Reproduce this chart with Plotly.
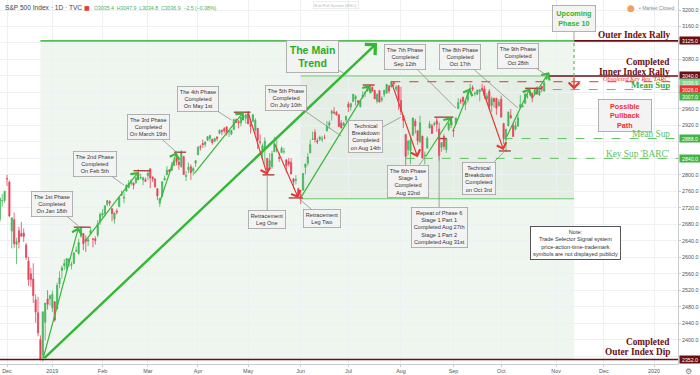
import numpy as np
import plotly.graph_objects as go

# ---------------- data (S&P 500 daily) ----------------
dates = [
 "2018-11-28","2018-11-29","2018-11-30",
 "2018-12-03","2018-12-04","2018-12-06","2018-12-07","2018-12-10","2018-12-11","2018-12-12","2018-12-13","2018-12-14",
 "2018-12-17","2018-12-18","2018-12-19","2018-12-20","2018-12-21","2018-12-24","2018-12-26","2018-12-27","2018-12-28","2018-12-31",
 "2019-01-02","2019-01-03","2019-01-04","2019-01-07","2019-01-08","2019-01-09","2019-01-10","2019-01-11","2019-01-14","2019-01-15",
 "2019-01-16","2019-01-17","2019-01-18","2019-01-22","2019-01-23","2019-01-24","2019-01-25","2019-01-28","2019-01-29","2019-01-30","2019-01-31",
 "2019-02-01","2019-02-04","2019-02-05","2019-02-06","2019-02-07","2019-02-08","2019-02-11","2019-02-12","2019-02-13","2019-02-14",
 "2019-02-15","2019-02-19","2019-02-20","2019-02-21","2019-02-22","2019-02-25","2019-02-26","2019-02-27","2019-02-28",
 "2019-03-01","2019-03-04","2019-03-05","2019-03-06","2019-03-07","2019-03-08","2019-03-11","2019-03-12","2019-03-13","2019-03-14",
 "2019-03-15","2019-03-18","2019-03-19","2019-03-20","2019-03-21","2019-03-22","2019-03-25","2019-03-26","2019-03-27","2019-03-28","2019-03-29",
 "2019-04-01","2019-04-02","2019-04-03","2019-04-04","2019-04-05","2019-04-08","2019-04-09","2019-04-10","2019-04-11","2019-04-12",
 "2019-04-15","2019-04-16","2019-04-17","2019-04-18","2019-04-22","2019-04-23","2019-04-24","2019-04-25","2019-04-26","2019-04-29","2019-04-30",
 "2019-05-01","2019-05-02","2019-05-03","2019-05-06","2019-05-07","2019-05-08","2019-05-09","2019-05-10","2019-05-13","2019-05-14",
 "2019-05-15","2019-05-16","2019-05-17","2019-05-20","2019-05-21","2019-05-22","2019-05-23","2019-05-24","2019-05-28","2019-05-29","2019-05-30","2019-05-31",
 "2019-06-03","2019-06-04","2019-06-05","2019-06-06","2019-06-07","2019-06-10","2019-06-11","2019-06-12","2019-06-13","2019-06-14",
 "2019-06-17","2019-06-18","2019-06-19","2019-06-20","2019-06-21","2019-06-24","2019-06-25","2019-06-26","2019-06-27","2019-06-28",
 "2019-07-01","2019-07-02","2019-07-03","2019-07-05","2019-07-08","2019-07-09","2019-07-10","2019-07-11","2019-07-12","2019-07-15",
 "2019-07-16","2019-07-17","2019-07-18","2019-07-19","2019-07-22","2019-07-23","2019-07-24","2019-07-25","2019-07-26","2019-07-29","2019-07-30","2019-07-31",
 "2019-08-01","2019-08-02","2019-08-05","2019-08-06","2019-08-07","2019-08-08","2019-08-09","2019-08-12","2019-08-13","2019-08-14",
 "2019-08-15","2019-08-16","2019-08-19","2019-08-20","2019-08-21","2019-08-22","2019-08-23","2019-08-26","2019-08-27","2019-08-28","2019-08-29","2019-08-30",
 "2019-09-03","2019-09-04","2019-09-05","2019-09-06","2019-09-09","2019-09-10","2019-09-11","2019-09-12","2019-09-13","2019-09-16",
 "2019-09-17","2019-09-18","2019-09-19","2019-09-20","2019-09-23","2019-09-24","2019-09-25","2019-09-26","2019-09-27","2019-09-30",
 "2019-10-01","2019-10-02","2019-10-03","2019-10-04","2019-10-07","2019-10-08","2019-10-09","2019-10-10","2019-10-11","2019-10-14",
 "2019-10-15","2019-10-16","2019-10-17","2019-10-18","2019-10-21","2019-10-22","2019-10-23","2019-10-24","2019-10-25","2019-10-28","2019-10-29",
]
open_ = [
 2691.45,2736.97,2737.76,
 2790.50,2782.43,2663.51,2691.26,2630.86,2664.44,2658.23,2658.70,2629.68,
 2590.75,2559.90,2547.05,2496.77,2465.38,2400.56,2363.12,2442.50,2498.77,2498.94,
 2476.96,2491.92,2474.33,2535.61,2568.11,2580.00,2573.51,2588.11,2580.31,2585.10,
 2614.75,2609.28,2651.27,2657.88,2643.48,2638.84,2657.44,2644.97,2644.89,2653.62,2685.49,
 2702.32,2706.49,2728.34,2735.05,2717.53,2692.36,2712.40,2722.61,2750.30,2743.50,
 2760.24,2769.28,2779.05,2780.24,2780.67,2804.35,2792.36,2787.50,2788.11,
 2798.22,2814.37,2794.41,2790.27,2766.53,2730.79,2747.61,2787.34,2799.78,2811.87,
 2810.79,2822.61,2840.76,2831.34,2819.72,2844.52,2796.01,2812.66,2819.72,2809.40,2828.27,
 2848.63,2868.24,2876.09,2873.99,2884.16,2888.46,2886.58,2881.37,2891.92,2900.86,
 2908.32,2912.26,2916.04,2904.81,2898.78,2909.99,2934.00,2928.99,2925.81,2940.58,2937.14,
 2952.33,2922.16,2929.21,2908.89,2913.03,2879.61,2859.84,2863.10,2840.19,2820.12,
 2820.38,2855.80,2858.60,2841.94,2854.02,2856.06,2836.70,2832.41,2830.03,2790.25,2786.94,2766.15,
 2751.53,2762.64,2818.09,2828.51,2852.87,2885.83,2903.27,2882.73,2886.24,2886.82,
 2889.75,2906.71,2920.55,2949.60,2952.71,2951.42,2945.78,2926.07,2919.66,2932.94,
 2971.41,2964.66,2978.08,2984.25,2979.77,2965.52,2989.30,2999.62,3003.36,3017.80,
 3012.13,3005.10,2978.87,3004.26,2981.93,2994.74,2998.77,3016.26,3013.25,3024.47,3007.66,3016.22,
 2980.32,2943.90,2898.07,2861.18,2858.65,2896.21,2930.51,2907.07,2880.72,2894.15,
 2846.20,2864.74,2913.48,2919.01,2922.04,2930.94,2911.07,2866.70,2893.14,2861.28,2910.37,2937.09,
 2909.01,2924.67,2960.60,2980.33,2988.43,2971.01,2981.41,3009.08,3012.21,2996.41,
 2995.67,3001.50,3010.36,3008.42,2983.50,3002.43,2968.35,2985.73,2985.47,2967.07,
 2983.69,2924.78,2885.38,2918.56,2944.23,2920.40,2911.10,2918.55,2963.07,2965.81,
 2973.61,2989.68,3000.77,2996.84,2996.48,3010.73,2994.01,3014.78,3003.32,3032.12,3035.39,
]
high = [
 2744.00,2753.75,2760.88,
 2800.18,2785.93,2696.15,2708.54,2647.51,2674.35,2685.44,2670.19,2635.07,
 2601.13,2573.99,2585.29,2509.63,2504.41,2410.34,2467.76,2489.10,2520.27,2509.24,
 2519.49,2493.14,2538.07,2566.16,2579.82,2595.32,2597.82,2596.27,2589.32,2613.08,
 2625.76,2645.06,2675.47,2657.88,2653.19,2647.20,2672.38,2644.97,2650.93,2690.44,2708.95,
 2716.66,2724.99,2738.98,2738.08,2719.32,2708.07,2718.05,2748.19,2761.85,2757.90,
 2775.66,2787.33,2789.88,2781.58,2794.20,2813.49,2803.12,2795.76,2793.73,
 2808.02,2816.88,2796.44,2790.27,2767.25,2744.13,2784.00,2798.32,2821.24,2814.00,
 2830.73,2835.41,2852.42,2843.54,2860.31,2846.16,2809.79,2829.87,2825.56,2819.71,2836.03,
 2869.40,2872.90,2885.25,2881.28,2893.24,2895.95,2886.88,2889.71,2893.42,2910.54,
 2909.60,2916.06,2918.00,2908.40,2909.51,2936.31,2936.83,2933.10,2939.88,2949.52,2948.22,
 2954.13,2931.68,2947.85,2937.32,2913.03,2897.96,2875.97,2891.31,2840.19,2852.54,
 2858.68,2892.15,2885.48,2853.86,2868.88,2865.47,2836.70,2841.36,2840.51,2792.03,2799.00,2768.98,
 2763.07,2804.49,2827.28,2852.10,2884.97,2904.77,2910.61,2888.57,2895.24,2894.45,
 2897.27,2930.79,2931.74,2958.06,2964.15,2954.92,2946.52,2932.59,2929.30,2943.98,
 2977.93,2973.21,2995.84,2994.03,2980.76,2981.90,3002.98,3002.33,3013.92,3017.80,
 3015.02,3005.26,2998.28,3006.02,2990.71,3005.90,3019.59,3016.31,3027.98,3025.61,3017.19,3017.40,
 3013.59,2945.50,2898.07,2884.40,2892.17,2938.72,2935.75,2907.58,2943.31,2894.15,
 2856.67,2893.63,2931.00,2923.63,2928.73,2939.08,2927.01,2879.27,2898.79,2890.03,2930.50,2940.43,
 2914.39,2938.84,2985.86,2985.03,2989.43,2979.39,3000.93,3020.74,3017.33,3002.19,
 3006.21,3007.83,3021.19,3016.37,2999.15,3007.98,2989.82,2987.28,2987.31,2983.85,
 2992.53,2924.78,2911.13,2953.74,2959.75,2925.47,2929.32,2948.46,2993.28,2972.84,
 3003.28,2997.54,3008.29,3000.00,3007.33,3014.57,3004.78,3016.07,3027.39,3044.08,3047.87,
]
low = [
 2684.38,2722.94,2732.76,
 2773.38,2697.18,2621.53,2623.14,2583.23,2621.30,2650.26,2637.27,2593.84,
 2530.54,2528.71,2488.96,2441.18,2408.55,2351.10,2346.58,2397.94,2472.89,2482.82,
 2467.47,2443.96,2474.33,2524.56,2547.56,2568.89,2562.02,2577.40,2570.41,2585.10,
 2612.68,2606.36,2647.58,2617.27,2612.86,2627.01,2657.33,2624.06,2631.05,2648.34,2678.65,
 2696.88,2698.75,2724.03,2724.15,2687.26,2681.83,2703.79,2722.61,2748.63,2731.23,
 2760.24,2767.29,2774.06,2764.55,2779.11,2794.99,2789.47,2775.13,2782.51,
 2787.38,2767.66,2782.97,2768.69,2739.09,2722.27,2747.61,2786.73,2799.78,2803.46,
 2810.79,2821.99,2823.27,2812.43,2817.38,2800.47,2785.02,2803.99,2787.72,2798.77,2819.23,
 2848.63,2858.75,2865.17,2867.14,2882.99,2880.78,2873.33,2879.13,2881.99,2898.37,
 2896.48,2900.71,2895.45,2891.90,2896.35,2908.53,2926.05,2912.84,2917.56,2939.35,2924.11,
 2923.36,2900.50,2929.21,2898.21,2862.60,2873.28,2836.40,2825.39,2801.43,2820.12,
 2815.08,2855.80,2854.23,2831.29,2854.02,2851.11,2805.49,2820.19,2801.58,2766.06,2776.74,2750.52,
 2728.81,2762.64,2800.92,2822.45,2852.87,2885.51,2878.53,2874.68,2881.99,2879.62,
 2887.30,2905.44,2911.43,2931.50,2946.87,2944.05,2916.01,2912.99,2918.57,2929.05,
 2952.22,2955.92,2977.96,2967.97,2970.09,2963.44,2984.62,2988.80,3001.87,3008.77,
 3001.15,2984.25,2973.09,2975.86,2976.65,2988.56,2996.82,2997.24,3012.59,3014.30,3000.94,2958.08,
 2945.23,2914.11,2822.12,2847.42,2825.71,2894.47,2900.15,2873.14,2877.05,2839.64,
 2825.51,2864.74,2913.48,2899.60,2917.91,2904.51,2834.97,2856.00,2860.59,2853.05,2905.67,2913.32,
 2891.85,2921.86,2960.60,2972.51,2969.39,2957.01,2975.31,3000.92,3002.90,2990.67,
 2993.73,2978.57,3003.16,2984.68,2982.23,2957.73,2952.86,2963.71,2945.53,2967.07,
 2938.70,2874.93,2855.94,2918.56,2935.68,2892.66,2907.41,2917.12,2963.07,2962.94,
 2973.61,2985.20,2991.79,2976.31,2995.35,2995.04,2991.21,3000.42,3001.94,3032.12,3034.81,
]
close = [
 2743.79,2737.80,2760.17,
 2790.37,2700.06,2695.95,2633.08,2637.72,2636.78,2651.07,2650.54,2599.95,
 2545.94,2546.16,2506.96,2467.42,2416.62,2351.10,2467.70,2488.83,2485.74,2506.85,
 2510.03,2447.89,2531.94,2549.69,2574.41,2584.96,2596.64,2596.26,2582.61,2610.30,
 2616.10,2635.96,2670.71,2632.90,2638.70,2642.33,2664.76,2643.85,2640.00,2681.05,2704.10,
 2706.53,2724.87,2737.70,2731.61,2706.05,2707.88,2709.80,2744.73,2753.03,2745.73,
 2775.60,2779.76,2784.70,2774.88,2792.67,2796.11,2793.90,2792.38,2784.49,
 2803.69,2792.81,2789.65,2771.45,2748.93,2743.07,2783.30,2791.52,2810.92,2808.48,
 2822.48,2832.94,2832.57,2824.23,2854.88,2800.71,2798.36,2818.46,2805.37,2815.44,2834.40,
 2867.19,2867.24,2873.40,2879.39,2892.74,2895.77,2878.20,2888.21,2888.32,2907.41,
 2905.58,2907.06,2900.45,2905.03,2907.97,2933.68,2927.25,2926.17,2939.88,2943.03,2945.83,
 2923.73,2917.52,2945.64,2932.47,2884.05,2879.42,2870.72,2881.40,2811.87,2834.41,
 2850.96,2876.32,2859.53,2840.23,2864.36,2856.27,2822.24,2826.06,2802.39,2783.02,2788.86,2752.06,
 2744.45,2803.27,2826.15,2843.49,2873.34,2886.73,2885.72,2879.84,2891.64,2886.98,
 2889.67,2917.75,2926.46,2954.18,2950.46,2945.35,2917.38,2913.78,2924.92,2941.76,
 2964.33,2973.01,2995.82,2990.41,2975.95,2979.63,2993.07,2999.91,3013.77,3014.30,
 3004.04,2984.42,2995.11,2976.61,2985.03,3005.47,3019.56,3003.67,3025.86,3020.97,3013.18,2980.38,
 2953.56,2932.05,2844.74,2881.77,2883.98,2938.09,2918.65,2882.70,2926.32,2840.60,
 2847.60,2888.68,2923.65,2900.51,2924.43,2922.95,2847.11,2878.38,2869.16,2887.94,2924.58,2926.46,
 2906.27,2937.78,2976.00,2978.71,2978.43,2979.39,3000.93,3009.57,3007.39,2997.96,
 3005.70,3006.73,3006.79,2992.07,2991.78,2966.60,2984.87,2977.62,2961.79,2976.74,
 2940.25,2887.61,2910.63,2952.01,2938.79,2893.06,2919.40,2938.13,2970.27,2966.15,
 2995.68,2989.69,2997.95,2986.20,3006.72,2995.99,3004.52,3010.29,3022.55,3039.42,3036.89,
]

month_tick_dates = ["2018-12-03","2019-01-02","2019-02-01","2019-03-01","2019-04-01","2019-05-01","2019-06-03",
                    "2019-07-01","2019-08-01","2019-09-03","2019-10-01","2019-11-01","2019-12-02","2020-01-02"]
month_tick_labels = ["Dec","2019","Feb","Mar","Apr","May","Jun","Jul","Aug","Sep","Oct","Nov","Dec","2020"]
price_ticks = [2360,2400,2440,2480,2520,2560,2600,2640,2680,2720,2760,2800,2840,2880,2920,2960,3000,3040,3080,3120,3160,3200]
hidden_price_ticks = [2360, 2840, 2880, 3000, 3040, 3120]   # covered by the level tags

level_outer_rally = 3125.0
level_inner_rally = 3040.0
level_tarc = 3026.0
level_mean_sup_hi = 3007.0
level_mean_sup_lo = 2888.0
level_barc = 2840.0
level_outer_dip = 2352.0
last_price = 3036.9
inner_box_low = 2742.0

header_title = "S&P 500 Index · 1D · TVC"
header_ohlc = "O3035.4  H3047.9  L3034.8  C3036.9  −2.5 (−0.08%)"

HOL = ["2018-12-05","2018-12-25","2019-01-01","2019-01-21","2019-02-18","2019-04-19","2019-05-27",
       "2019-07-04","2019-09-02","2019-11-28","2019-12-25","2020-01-01"]


def X(d, off=0.0):
    return float(np.busday_count("2018-12-03", d, holidays=HOL)) + off


UP = "#45b55a"
DN = "#e8415a"
LGREEN = "#5cc25c"
DRED = "#6b0f12"
RED = "#ee2d2d"
PIV = "#a8433f"

xs = [X(d) for d in dates]
XR = [-2.93, 281.05]
YR = [2341.0, 3224.3]
X_EDGE = X("2019-11-12", 0.5)   # right edge of the projected boxes

fig = go.Figure(go.Candlestick(
    x=xs, open=open_, high=high, low=low, close=close,
    increasing=dict(line=dict(color=UP, width=0.8), fillcolor=UP),
    decreasing=dict(line=dict(color=DN, width=0.8), fillcolor=DN),
    whiskerwidth=0, showlegend=False, hoverinfo="skip"))

shapes = []
shapes.append(dict(type="rect", xref="x", yref="y", x0=X("2018-12-24"), x1=X_EDGE, y0=level_outer_dip, y1=level_outer_rally,
                   fillcolor="rgba(190,215,190,0.24)", line=dict(width=0), layer="below"))
shapes.append(dict(type="rect", xref="x", yref="y", x0=X("2019-06-03"), x1=X_EDGE, y0=inner_box_low, y1=level_inner_rally,
                   fillcolor="rgba(190,215,190,0.22)", line=dict(width=0), layer="below"))


def hline(x0, x1, y, color, width=1.0, dash="solid"):
    shapes.append(dict(type="line", xref="x", yref="y", x0=x0, x1=x1, y0=y, y1=y,
                       line=dict(color=color, width=width, dash=dash)))


hline(X("2018-12-24"), X_EDGE, level_outer_rally, "#52c152", 1.6)
hline(X_EDGE, XR[1] + 5, level_outer_rally, DRED, 1.6)
hline(X("2019-06-03"), X("2019-10-29"), level_inner_rally, "#6cc66c", 1.0)
hline(X("2019-10-29"), XR[1] + 5, level_inner_rally, DRED, 1.6)
hline(X("2019-06-03"), X_EDGE, inner_box_low, "#6cc66c", 1.0)
hline(XR[0] - 5, XR[1] + 5, level_outer_dip, DRED, 1.6)
hline(X("2019-07-26"), XR[1] + 5, level_tarc, RED, 1.0, "dash")
hline(X("2019-10-21"), XR[1] + 5, level_mean_sup_hi, LGREEN, 1.0, "dash")
hline(X("2019-10-02"), XR[1] + 5, level_mean_sup_lo, LGREEN, 1.0, "dash")
hline(X("2019-08-05"), XR[1] + 5, level_barc, LGREEN, 1.0, "dash")
shapes.append(dict(type="line", xref="x", yref="y", x0=X_EDGE, x1=X_EDGE, y0=level_inner_rally, y1=level_outer_rally,
                   line=dict(color="#52c152", width=1.2, dash="dot")))

pivots = [
    ("2019-01-15", "2019-01-25", 2673), ("2019-02-21", "2019-03-04", 2810), ("2019-03-18", "2019-03-25", 2855),
    ("2019-04-23", "2019-05-02", 2952), ("2019-05-09", "2019-05-16", 2800), ("2019-05-24", "2019-06-04", 2744),
    ("2019-07-10", "2019-07-17", 3018), ("2019-08-21", "2019-09-03", 2940), ("2019-08-23", "2019-08-28", 2888),
    ("2019-09-30", "2019-10-07", 2858), ("2019-10-15", "2019-10-24", 3010),
]
for a, b, p in pivots:
    hline(X(a), X(b), p, PIV, 1.4)

fig.update_layout(shapes=shapes)


def arrow(d0, p0, d1, p1, color, width, size):
    fig.add_annotation(x=X(d1) if isinstance(d1, str) else d1, y=p1,
                       ax=X(d0) if isinstance(d0, str) else d0, ay=p0,
                       xref="x", yref="y", axref="x", ayref="y", text="",
                       showarrow=True, arrowhead=4, arrowsize=size, arrowwidth=width, arrowcolor=color)


arrow("2018-12-26", 2352, "2019-07-18", 3120, "#33b833", 2.4, 1.2)
phase_arrows = [
    ("2018-12-26", 2352, "2019-01-17", 2673), ("2019-01-22", 2634, "2019-02-25", 2807),
    ("2019-03-08", 2734, "2019-03-19", 2855), ("2019-03-28", 2800, "2019-04-29", 2952),
    ("2019-06-03", 2744, "2019-07-15", 3018), ("2019-08-15", 2841, "2019-08-30", 2940),
    ("2019-09-03", 2909, "2019-09-12", 3010), ("2019-10-03", 2889, "2019-10-17", 3010),
    ("2019-10-18", 2986, "2019-10-29", 3049),
]
for a in phase_arrows:
    arrow(*a, "#38b838", 1.2, 1.6)
red_arrows = [
    ("2019-05-01", 2952, "2019-05-13", 2800), ("2019-05-16", 2877, "2019-05-31", 2744),
    ("2019-07-26", 3025, "2019-08-12", 2843), ("2019-09-19", 3010, "2019-10-02", 2860),
]
for a in red_arrows:
    arrow(*a, "#e53935", 1.2, 1.6)
arrow(X_EDGE, level_inner_rally, X_EDGE, level_mean_sup_hi, "#e53935", 1.3, 1.6)

BOXFONT = "Liberation Sans"


def callout(text, d, p, ax, ay, color="#333333", size=5.6, show=True, pad=2, width=None):
    fig.add_annotation(x=X(d) if isinstance(d, str) else d, y=p, xref="x", yref="y", text=text,
                       showarrow=show, arrowhead=0, arrowwidth=0.8, arrowcolor="#8f8f8f", ax=ax, ay=ay,
                       bgcolor="#f3f3f3", bordercolor="#a0a0a0", borderwidth=0.8, borderpad=pad, width=width,
                       font=dict(size=size, color=color, family=BOXFONT), align="center")


callout("The 1st Phase<br>Completed<br>On Jan 18th", "2019-01-17", 2676, -27, -22)
callout("The 2nd Phase<br>Completed<br>On Feb 5th", "2019-02-14", 2775, -29, -21)
callout("The 3rd Phase<br>Completed<br>On March 19th", "2019-03-19", 2855, -28, -25)
callout("The 4th Phase<br>Completed<br>On May 1st", "2019-04-22", 2933, -33, -21)
callout("The 5th Phase<br>Completed<br>On July 10th", "2019-06-26", 2894, -55, -38)
callout("<b>The Main<br>Trend</b>", "2019-06-27", 3047, -31, -17, color="#22b022", size=10.5, pad=3)
callout("The 7th Phase<br>Completed<br>Sep 12th", "2019-09-04", 2962, -51, -51)
callout("The 8th Phase<br>Completed<br>Oct 17th", "2019-10-10", 2962, -58, -51)
callout("The 9th Phase<br>Completed<br>Oct 28th", "2019-10-28", 3042, -29, -19)
callout("<b>Upcoming<br>Phase 10</b>", X_EDGE, level_outer_rally, 0, -22, color="#2fb52f", size=7.2, pad=3.5)
callout("<b>Possible<br>Pullback<br>Path</b>", X("2019-12-13"), 2943, 0, 0, color="#f03030", size=7.2,
        show=False, width=48)
callout("Technical<br>Breakdown<br>Completed<br>on Aug 14th", "2019-08-01", 2940, -35, 19)
callout("The 6th Phase<br>Stage 1<br>Completed<br>Aug 22nd", "2019-08-15", 2843, -17, 24)
callout("Repeat of Phase 6<br>Stage 1 Part 1<br>Completed Aug 27th<br>Stage 1 Part 2<br>Completed Aug 31st",
        "2019-08-23", 2855, 0, 75)
callout("Technical<br>Breakdown<br>Completed<br>on Oct 3rd", "2019-10-02", 2855, -25, 26)
callout("Retracement<br>Leg One", "2019-05-13", 2800, 0, 45)
callout("Retracement<br>Leg Two", "2019-05-31", 2744, 24, 21)

fig.add_annotation(x=X("2019-11-13"), y=2635, xref="x", yref="y", showarrow=False,
                   text="Note:<br>Trade Selector Signal system<br>price-action-time-trademark<br>symbols are not displayed publicly",
                   bgcolor="#ffffff", bordercolor="#555555", borderwidth=1, borderpad=2,
                   font=dict(size=5.6, color="#333333", family=BOXFONT), align="center")

# right-side level texts: (text, level, colour, size, px above the level line)
SERIF = "Liberation Serif"
level_texts = [
    ("<b>Outer Index Rally</b>", level_outer_rally, DRED, 9.3, 6),
    ("<b>Completed</b>", level_inner_rally, DRED, 9.3, 13.5),
    ("<b>Inner Index Rally</b>", level_inner_rally, DRED, 9.3, 4.2),
    ("<i>Obsoleted Key Res 'TARC'</i>", level_tarc, RED, 6.3, 2.9),
    ("<b>Mean Sup</b>", level_mean_sup_hi, "#3aa83a", 9.0, 4.6),
    ("Mean Sup", level_mean_sup_lo, "#5cbf5c", 9.3, 4.6),
    ("Key Sup 'BARC'", level_barc, "#5cbf5c", 9.3, 4.4),
    ("<b>Completed</b>", level_outer_dip, DRED, 9.3, 17.5),
    ("<b>Outer Index Dip</b>", level_outer_dip, DRED, 9.3, 7.5),
]
for t, p, c, s, up in level_texts:
    fig.add_annotation(x=0.991, y=p, xref="paper", yref="y", xanchor="right", yanchor="middle", text=t,
                       showarrow=False, align="right", yshift=up,
                       font=dict(family=SERIF, size=s, color=c))

# price tags on the scale (value, colour, vertical stacking shift px)
tags = [
    (level_outer_rally, DRED, 0), (level_inner_rally, DRED, 0), (last_price, "#7fcf8e", -5),
    (level_tarc, "#f23030", -7.6), (level_mean_sup_hi, "#44b544", -7.2), (level_mean_sup_lo, "#44b544", 0),
    (level_barc, "#44b544", 0), (level_outer_dip, DRED, 0),
]
for v, c, sh in tags:
    fig.add_annotation(x=1, y=v, xref="paper", yref="y", xanchor="left", yanchor="middle", text=f"{v:.1f}",
                       showarrow=False, bgcolor=c, width=19, height=6, borderpad=0.5, yshift=sh, xshift=1,
                       font=dict(size=5.2, color="white", family=BOXFONT))

fig.add_annotation(x=0.004, y=1, xref="paper", yref="paper", xanchor="left", yanchor="top", yshift=-2,
                   text=header_title, showarrow=False, font=dict(size=6.6, color="#444444", family=BOXFONT))
fig.add_annotation(x=0.121, y=1, xref="paper", yref="paper", xanchor="left", yanchor="top", yshift=-2,
                   text="■", showarrow=False, font=dict(size=6, color="#e83a3a", family="DejaVu Sans"))
fig.add_annotation(x=0.135, y=1, xref="paper", yref="paper", xanchor="left", yanchor="top", yshift=-3,
                   text=header_ohlc, showarrow=False, font=dict(size=5.2, color="#4caf50", family=BOXFONT))
fig.add_annotation(x=0.462, y=1, xref="paper", yref="paper", xanchor="left", yanchor="top", yshift=-1,
                   text="Exit Full Screen (ESC)", showarrow=False, bordercolor="#e2e2e2", borderwidth=0.6,
                   borderpad=1, font=dict(size=4.2, color="#b5b5b5", family=BOXFONT))
fig.add_annotation(x=0.93, y=1, xref="paper", yref="paper", xanchor="center", yanchor="top", yshift=-1,
                   text="●", showarrow=False, font=dict(size=9, color="#f5a05a", family="DejaVu Sans"))
fig.add_annotation(x=0.94, y=1, xref="paper", yref="paper", xanchor="left", yanchor="top", yshift=-3,
                   text="• Market Closed", showarrow=False, font=dict(size=5, color="#8a8a8a", family=BOXFONT))
fig.add_annotation(x=1, y=0, xref="paper", yref="paper", xanchor="left", yanchor="top", xshift=5, yshift=-1,
                   text="⚙", showarrow=False, font=dict(size=8, color="#777777", family="DejaVu Sans"))

price_tick_text = ["" if v in hidden_price_ticks else f"{v:.1f}" for v in price_ticks]

fig.update_layout(
    width=700, height=375, margin=dict(l=0, r=22, t=0, b=11),
    paper_bgcolor="white", plot_bgcolor="white", showlegend=False,
    xaxis=dict(range=XR, tickvals=[X(d) for d in month_tick_dates], ticktext=month_tick_labels,
               showgrid=True, gridcolor="#eef1f4", gridwidth=1, zeroline=False, showline=True,
               linecolor="#c9cdd1", ticks="outside", ticklen=2, tickcolor="#c9cdd1",
               tickfont=dict(size=5.4, color="#555555", family=BOXFONT),
               rangeslider=dict(visible=False), fixedrange=True, automargin=False),
    yaxis=dict(side="right", range=YR, tickvals=price_ticks, ticktext=price_tick_text,
               showgrid=True, gridcolor="#eef1f4", gridwidth=1, zeroline=False, showline=True,
               linecolor="#c9cdd1", ticks="outside", ticklen=2, tickcolor="#c9cdd1",
               tickfont=dict(size=5.4, color="#555555", family=BOXFONT), fixedrange=True, automargin=False),
)

fig.write_html("out.html", config={"displayModeBar": False},
               post_script="document.body.style.margin='0px';document.body.style.overflow='hidden';")
